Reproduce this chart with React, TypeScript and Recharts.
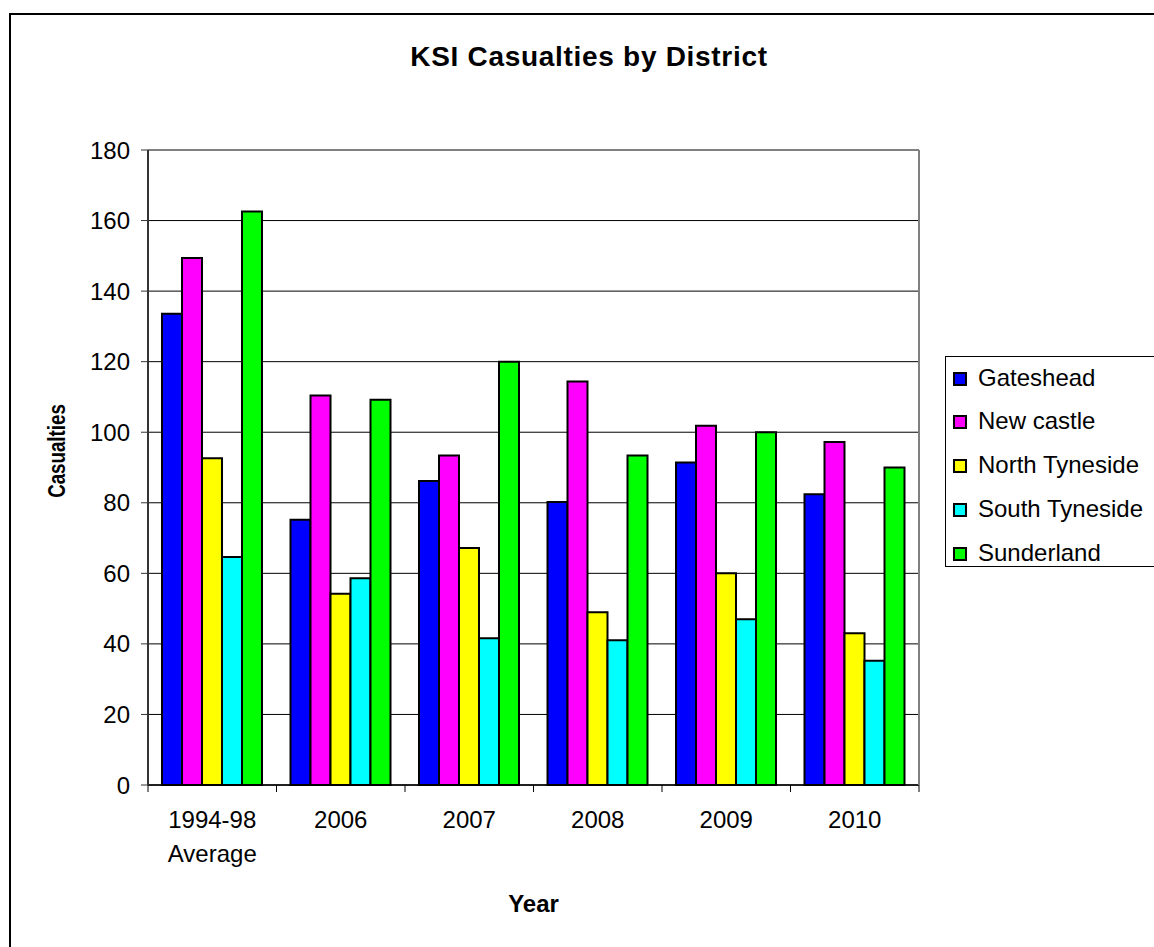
import React from 'react';
import {
  BarChart,
  Bar,
  XAxis,
  YAxis,
  CartesianGrid,
  Legend,
  ReferenceLine
} from 'recharts';

// categories and series
const years = ['1994-98\nAverage', '2006', '2007', '2008', '2009', '2010'];
const gateshead = [133.6, 75.2, 86.2, 80.2, 91.4, 82.4];
const newcastle = [149.4, 110.4, 93.4, 114.4, 101.8, 97.2];
const northTyneside = [92.6, 54.2, 67.2, 49, 60, 43];
const southTyneside = [64.6, 58.6, 41.6, 41, 47, 35.2];
const sunderland = [162.6, 109.2, 120, 93.4, 100, 90];
const yTicks = [0, 20, 40, 60, 80, 100, 120, 140, 160, 180];

const series = [
  { key: 'gateshead', name: 'Gateshead', color: '#0000FF', values: gateshead },
  { key: 'newcastle', name: 'New castle', color: '#FF00FF', values: newcastle },
  { key: 'northTyneside', name: 'North Tyneside', color: '#FFFF00', values: northTyneside },
  { key: 'southTyneside', name: 'South Tyneside', color: '#00FFFF', values: southTyneside },
  { key: 'sunderland', name: 'Sunderland', color: '#00FF00', values: sunderland }
];

const chartData = years.map((year, i) => {
  const row: Record<string, string | number> = { year };
  series.forEach((s) => {
    row[s.key] = s.values[i];
  });
  return row;
});

// plot box in page pixels
const PLOT_LEFT = 148;
const PLOT_RIGHT = 919;
const PLOT_TOP = 150;
const PLOT_BOTTOM = 785;
const W = 1154;
const H = 947;
const BAND = (PLOT_RIGHT - PLOT_LEFT) / years.length;

const FONT = 'Arial, "Liberation Sans", sans-serif';

const XTick = (props: any) => {
  const { x, y, payload, index } = props;
  const lines = String(payload.value).split('\n');
  return (
    <g>
      <line x1={x - BAND / 2} x2={x - BAND / 2} y1={y} y2={y + 7} stroke="#000" />
      {index === years.length - 1 && (
        <line x1={x + BAND / 2} x2={x + BAND / 2} y1={y} y2={y + 7} stroke="#000" />
      )}
      <text textAnchor="middle" fontSize={24} fill="#000">
        {lines.map((line, i) => (
          <tspan key={i} x={x} y={y + 43 + i * 34}>
            {line}
          </tspan>
        ))}
      </text>
    </g>
  );
};

const LegendBox = (props: any) => {
  const items = props.payload || [];
  return (
    <div
      style={{
        position: 'relative',
        width: 262,
        height: 209,
        borderLeft: '1px solid #000',
        borderTop: '1px solid #000',
        borderBottom: '1px solid #000',
        background: '#fff',
        fontFamily: FONT
      }}
    >
      {items.map((item: any, i: number) => (
        <div key={i} style={{ position: 'absolute', left: 0, top: 8.7 + i * 43.75, height: 24 }}>
          <div
            style={{
              position: 'absolute',
              left: 7,
              top: 6,
              width: 10,
              height: 10,
              background: item.color,
              border: '2px solid #000'
            }}
          />
          <div
            style={{
              position: 'absolute',
              left: 32,
              top: 0,
              fontSize: 24,
              lineHeight: '24px',
              whiteSpace: 'nowrap',
              color: '#000'
            }}
          >
            {item.value}
          </div>
        </div>
      ))}
    </div>
  );
};

export default function App() {
  return (
    <div
      style={{
        position: 'absolute',
        left: 0,
        top: 0,
        width: W,
        height: H,
        overflow: 'hidden',
        background: '#fff',
        fontFamily: FONT
      }}
    >
      {/* outer chart frame: only its left and top edges fall inside the page */}
      <div
        style={{
          position: 'absolute',
          left: 9,
          top: 13,
          width: W,
          height: H,
          borderLeft: '2px solid #000',
          borderTop: '2px solid #000'
        }}
      />
      <div
        style={{
          position: 'absolute',
          left: 289,
          top: 43,
          width: 600,
          textAlign: 'center',
          fontSize: 28,
          lineHeight: '28px',
          fontWeight: 'bold',
          letterSpacing: 0.7,
          color: '#000'
        }}
      >
        KSI Casualties by District
      </div>
      <div
        style={{
          position: 'absolute',
          left: 57 - 100,
          top: 451 - 12,
          width: 200,
          height: 24,
          textAlign: 'center',
          fontSize: 24,
          lineHeight: '24px',
          fontWeight: 'bold',
          color: '#000',
          transform: 'rotate(-90deg) scaleX(0.78)'
        }}
      >
        Casualties
      </div>
      <div
        style={{
          position: 'absolute',
          left: (PLOT_LEFT + PLOT_RIGHT) / 2 - 100,
          top: 892,
          width: 200,
          textAlign: 'center',
          fontSize: 24,
          lineHeight: '24px',
          fontWeight: 'bold',
          color: '#000'
        }}
      >
        Year
      </div>
      <div style={{ position: 'absolute', left: 0, top: 0 }}>
        <BarChart
          width={W}
          height={H}
          data={chartData}
          barGap={0}
          margin={{
            top: PLOT_TOP,
            right: W - PLOT_RIGHT - 1,
            left: PLOT_LEFT - 100,
            bottom: H - PLOT_BOTTOM - 60
          }}
        >
          <CartesianGrid vertical={false} stroke="#000" strokeWidth={1} />
          <ReferenceLine y={180} stroke="#808080" strokeWidth={2} />
          <XAxis
            dataKey="year"
            height={60}
            tickSize={0}
            tickMargin={0}
            tickLine={false}
            axisLine={{ stroke: '#000', strokeWidth: 1.5 }}
            tick={<XTick />}
            interval={0}
          />
          <YAxis
            width={100}
            domain={[0, 180]}
            ticks={yTicks}
            interval={0}
            tickSize={7}
            tickMargin={11}
            tickLine={{ stroke: '#333' }}
            axisLine={{ stroke: '#333', strokeWidth: 2 }}
            tick={{ fontSize: 24, fill: '#000' }}
          />
          <YAxis
            yAxisId="frame"
            orientation="right"
            width={1}
            domain={[0, 180]}
            tick={false}
            tickLine={false}
            axisLine={{ stroke: '#808080', strokeWidth: 2 }}
          />
          <Legend
            layout="horizontal"
            verticalAlign="middle"
            align="center"
            wrapperStyle={{ left: 945, top: 356, width: 264, height: 211 }}
            content={<LegendBox />}
          />
          {series.map((s) => (
            <Bar
              key={s.key}
              dataKey={s.key}
              name={s.name}
              fill={s.color}
              stroke="#000"
              strokeWidth={2}
              barSize={20}
              isAnimationActive={false}
            />
          ))}
        </BarChart>
      </div>
    </div>
  );
}
